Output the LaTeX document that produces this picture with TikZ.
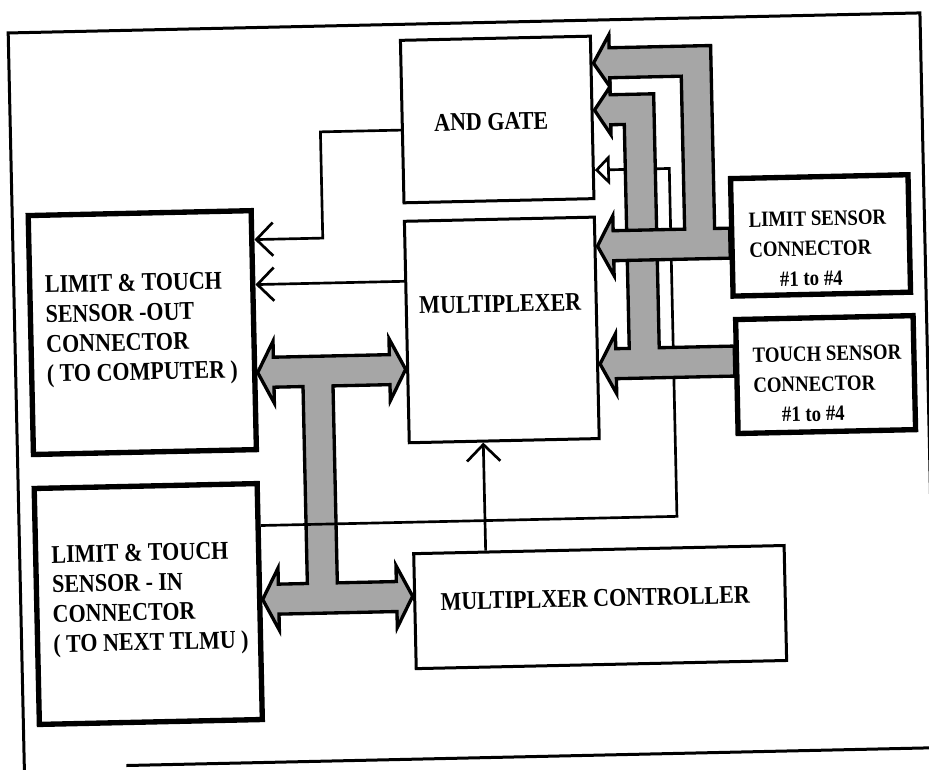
\documentclass[tikz,border=0pt]{standalone}
\usepackage{fontspec}
\setmainfont{Liberation Serif}[FakeStretch=0.86]
\usetikzlibrary{arrows.meta,calc}
\begin{document}
\begin{tikzpicture}[x=0.75pt,y=-0.75pt,
  frameline/.style={line width=2.25pt},
  blk/.style={draw,line width=2.25pt,inner sep=0pt},
  conn/.style={draw,line width=4pt,inner sep=0pt},
  lbl/.style={inner sep=0pt,font=\fontsize{19.2}{22.3}\selectfont\bfseries},
  lbls/.style={inner sep=0pt,align=left,font=\fontsize{16.4}{22.5}\selectfont\bfseries},
  wire/.style={line width=2pt},
  sig/.style={wire,-{Straight Barb[length=12.5pt,width=25pt]}},
  tri/.style={wire,-{Triangle[open,length=11.25pt,width=22.5pt]}},
  bus/.style={draw,line width=2.5pt,fill=black!35,line join=miter}]
\useasboundingbox (0,0) rectangle (929,769);
\begin{scope}[transform canvas={rotate around={1.26:(348.375pt,-288.375pt)}}]
% outer frame
\draw[frameline] (16,775) -- (16,23) -- (928,23) -- (928,758) -- (118,758);

% blocks
\node[blk,minimum width=190*0.75pt,minimum height=162.5*0.75pt] (andg) at (503,120.25) {};
\node[blk,minimum width=190*0.75pt,minimum height=221.5*0.75pt] (mux) at (503,330.75) {};
\node[blk,minimum width=370.5*0.75pt,minimum height=115*0.75pt] (ctrl) at (595.25,610) {};
\node[conn,minimum width=223*0.75pt,minimum height=239*0.75pt] (outbox) at (143.5,325.5) {};
\node[conn,minimum width=223*0.75pt,minimum height=236*0.75pt] (inbox) at (143.5,597) {};
\node[conn,minimum width=177.5*0.75pt,minimum height=117.5*0.75pt] (limbox) at (823.75,243.25) {};
\node[conn,minimum width=177.5*0.75pt,minimum height=114*0.75pt] (touchbox) at (825.75,382.5) {};

% labels
\node[lbl,anchor=base] (andtxt) at (497,130.6) {AND GATE};
\node[lbl,anchor=base] (muxtxt) at (502,313) {MULTIPLEXER};
\node[lbl,anchor=base] (ctrltxt) at (590.5,609.5) {MULTIPLXER CONTROLLER};
\node[lbl,align=left,anchor=north west] (outtxt) at (47,266.5)
  {LIMIT \& TOUCH\\SENSOR -OUT\\CONNECTOR\\( TO COMPUTER )};
\node[lbl,align=left,anchor=north west] (intxt) at (47.5,536.7)
  {LIMIT \& TOUCH\\SENSOR - IN\\CONNECTOR\\( TO NEXT TLMU )};
\node[lbls,anchor=north west] (limtxt) at (752,218.7)
  {LIMIT SENSOR\\CONNECTOR\\\hspace*{22.5pt}\#1 to \#4};
\node[lbls,anchor=north west] (touchtxt) at (753,354.1)
  {TOUCH SENSOR\\CONNECTOR\\\hspace*{21pt}\#1 to \#4};

% left double bus (T / I shape)
\draw[bus] (258,368) -- (274,337) -- (274,353) -- (390,353) -- (390,337) -- (406,368)
  -- (390,399) -- (390,383) -- (333,383) -- (333,580) -- (392,580) -- (392,564)
  -- (408,595) -- (392,626) -- (392,610) -- (274,610) -- (274,626) -- (258,595)
  -- (274,564) -- (274,580) -- (303,580) -- (303,383) -- (274,383) -- (274,399) -- cycle;

% thin signal wires
\coordinate (w1) at (326,128.75);
\coordinate (w2) at (326,235);
\draw[sig] (andg.west |- w1) -- (w1) -- (w2) -- (w2 -| outbox.east);
\coordinate (m1) at (330,280);
\draw[sig] (mux.west |- m1) -- (m1 -| outbox.east);
\coordinate (c1) at (482,500);
\draw[sig] (ctrl.north -| c1) -- (c1 |- mux.south);
\coordinate (s1) at (674,521);
\coordinate (s2) at (674,173);
\draw[tri] (inbox.east |- s1) -- (s1) -- (s2) -- (s2 -| andg.east);

% touch sensor bus (inner)
\draw[bus] (600.5,113) -- (616.5,90) -- (616.5,98) -- (660,98) -- (660,352) -- (735,352)
  -- (735,382) -- (616.5,382) -- (616.5,397) -- (600.5,367) -- (616.5,337) -- (616.5,352)
  -- (630,352) -- (630,128) -- (616.5,128) -- (616.5,138) -- cycle;

% limit sensor bus (outer)
\draw[bus] (600.5,66) -- (616.5,38) -- (616.5,51) -- (718,51) -- (718,234) -- (733,234)
  -- (733,264) -- (616.5,264) -- (616.5,279) -- (600.5,249) -- (616.5,219) -- (616.5,234)
  -- (688,234) -- (688,81) -- (616.5,81) -- (616.5,90) -- cycle;
\end{scope}
\end{tikzpicture}
\end{document}
